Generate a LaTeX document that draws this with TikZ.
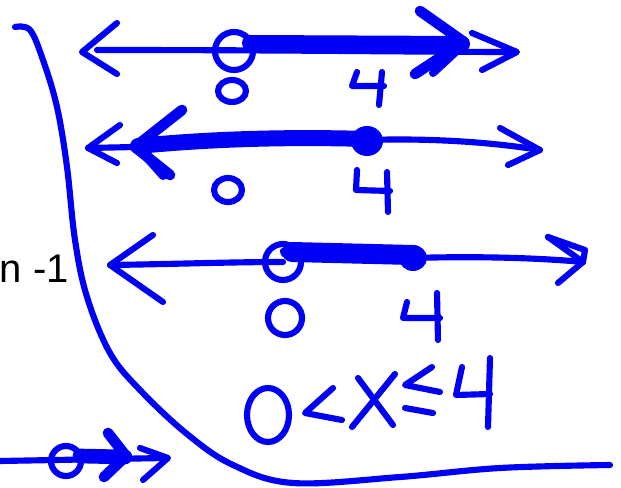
\documentclass[tikz,border=0pt]{standalone}
\usepackage{fontspec}
\setmainfont{Liberation Sans}
\definecolor{inkblue}{RGB}{0,0,245}
\tikzset{
  ink/.style={draw=inkblue, line width=4.6pt, line cap=round, line join=round},
  fatink/.style={draw=inkblue, line width=#1, line cap=round, line join=round},
  dotfill/.style={fill=inkblue, draw=none},
}
\begin{document}
\begin{tikzpicture}[x=0.75pt,y=-0.75pt]
\useasboundingbox (0,0) rectangle (621,488);
% text
\node[anchor=base east, inner sep=0pt, font=\fontsize{30pt}{34pt}\selectfont] (lbl) at (69,282) {n -1};
% big bracket curve
\draw[ink] plot[smooth, tension=0.6] coordinates {(15,27) (30,30) (43,60) (57,107) (67,167) (75,240) (87,297) (110,353) (140,390) (187,434) (233,465) (293,483) (400,477) (500,468) (610,465)};

% ---------- line 1 ----------
\draw[ink] (117,23) -- (82,52) -- (117,74);
\draw[ink] (97,50) .. controls (300,50) and (420,52) .. (515,52);
\draw[fatink=12pt] (250,43) -- (462,44);
\draw[fatink=8pt] (420,11) -- (464,42) -- (415,74);
\draw[fatink=6pt] (433,73) -- (462,46);
\draw[ink] (472,33) -- (517,52) -- (482,70);
\draw[ink] (234,51) circle [x radius=19, y radius=19];
\draw[ink] (232,91) ellipse [x radius=14, y radius=11];
\draw[ink] (357,72) -- (352,86) -- (384,86);
\draw[ink] (382,72) -- (379,105);

% ---------- line 2 ----------
\draw[ink] (120,125) -- (88,148) -- (117,163);
\draw[ink] (88,148) -- (135,147);
\draw[fatink=12pt] (138,146) .. controls (220,138) and (300,137) .. (367,139);
\draw[fatink=8pt] (182,110) -- (135,147) -- (170,175);
\draw[fatink=6pt] (140,150) -- (163,176);
\draw[ink] (367,140) .. controls (430,138) and (490,142) .. (540,150);
\draw[ink] (500,128) -- (540,150) -- (508,165);
\fill[dotfill] (367,141) circle [x radius=16, y radius=15];
\draw[ink] (228,190) ellipse [x radius=14, y radius=12];
\draw[ink] (357,170) -- (356,190) -- (390,191);
\draw[ink] (387,172) -- (388,212);

% ---------- line 3 ----------
\draw[ink] (153,235) -- (110,265) -- (163,302);
\draw[ink] (110,265) .. controls (180,264) and (230,262) .. (283,262);
\draw[fatink=15pt] (292,252) -- (413,255);
\draw[ink] (413,258) .. controls (480,256) and (540,258) .. (583,262);
\draw[ink] (548,237) -- (585,250) -- (583,262) -- (558,283);
\draw[ink] (548,237) -- (583,262);
\fill[dotfill] (413,258) circle [x radius=14, y radius=13];
\draw[ink] (283,262) circle [x radius=18, y radius=18];
\draw[ink] (283,251) -- (284,254);
\draw[ink] (285,318) ellipse [x radius=17, y radius=17];
\draw[ink] (407,302) -- (403,318) -- (440,318);
\draw[ink] (437,293) -- (438,340);

% ---------- inequality 0<x<=4 ----------
\draw[ink] (268,415) ellipse [x radius=21, y radius=27];
\draw[ink] (333,388) -- (305,413) -- (342,420);
\draw[ink] (358,378) -- (393,425);
\draw[ink] (395,374) -- (352,427);
\draw[ink] (432,367) -- (405,385) -- (440,392);
\draw[ink] (405,408) -- (433,413);
\draw[ink] (462,367) -- (456,395) -- (490,394);
\draw[ink] (490,358) -- (488,427);

% ---------- bottom-left arrow ----------
\draw[ink] (0,461) -- (165,458);
\draw[fatink=11pt] (80,456) -- (125,457);
\draw[fatink=8pt] (108,433) -- (126,456) -- (104,477);
\draw[ink] (140,448) -- (168,458) -- (143,480);
\draw[ink] (66,461) circle [x radius=15, y radius=15];
\end{tikzpicture}
\end{document}
